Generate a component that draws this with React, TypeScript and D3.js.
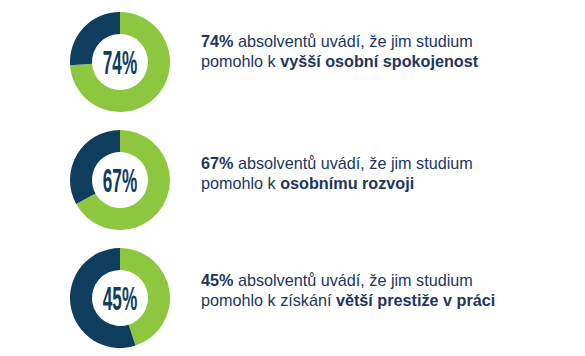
import React from "react";
import * as d3 from "d3";

const values = [74, 67, 45];
const prefixes = ["absolventů uvádí, že jim studium", "absolventů uvádí, že jim studium", "absolventů uvádí, že jim studium"];
const line2Normal = ["pomohlo k ", "pomohlo k ", "pomohlo k získání "];
const line2Bold = ["vyšší osobní spokojenost", "osobnímu rozvoji", "větší prestiže v práci"];

const W = 585;
const H = 356;
const GREEN = "#8dc63f";
const NAVY = "#0f3d5e";
const TEXT = "#1c3660";

export default function App() {
  const rowY = d3.scalePoint<number>().domain(d3.range(values.length)).range([62, 298]);
  const arc = d3.arc<d3.PieArcDatum<number>>().innerRadius(28).outerRadius(50);
  const pie = d3.pie<number>().sort(null).value((d) => d);

  return (
    <svg width={W} height={H} style={{ position: "absolute", left: 0, top: 0, background: "#fff" }}>
      {values.map((v, i) => {
        const cy = rowY(i)!;
        const arcs = pie([v, 100 - v]);
        return (
          <g key={i}>
            <g transform={`translate(120,${cy})`}>
              {arcs.map((a, j) => (
                <path key={j} d={arc(a)!} fill={j === 0 ? GREEN : NAVY} />
              ))}
              <text
                transform="scale(0.52,1)"
                x={0}
                y={11.5}
                textAnchor="middle"
                fontFamily="Liberation Sans, Arial, sans-serif"
                fontWeight="bold"
                fontSize={33}
                fill={NAVY}
              >
                {v}%
              </text>
            </g>
            <text
              x={201}
              y={cy - 15 + (i === 0 ? 0 : i === 1 ? 4 : 3)}
              fontFamily="Liberation Sans, Arial, sans-serif"
              fontSize={16.2}
              fill={TEXT}
            >
              <tspan fontWeight="bold">{v}%</tspan> {prefixes[i]}
              <tspan x={201} dy={20}>{line2Normal[i]}</tspan>
              <tspan fontWeight="bold">{line2Bold[i]}</tspan>
            </text>
          </g>
        );
      })}
    </svg>
  );
}
